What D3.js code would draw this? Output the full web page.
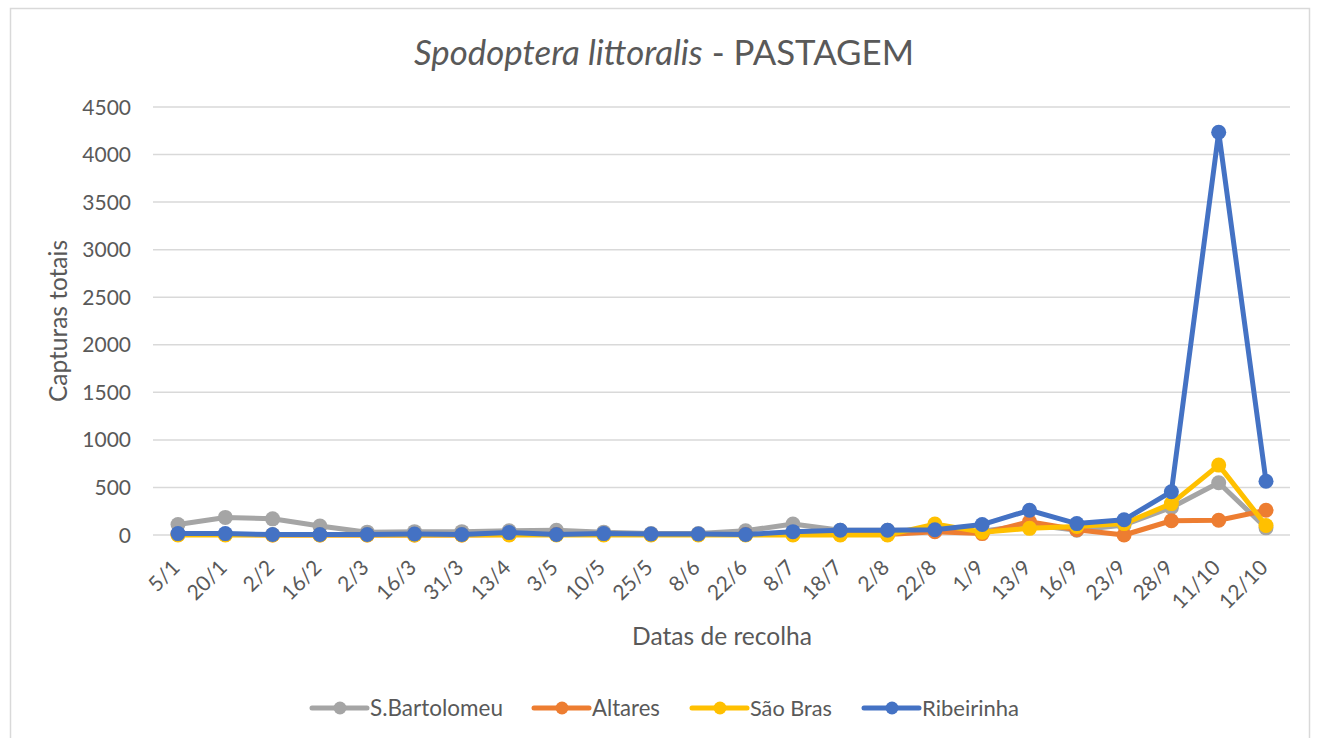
<!DOCTYPE html>
<html><head><meta charset="utf-8">
<script src="https://cdn.jsdelivr.net/npm/d3@7"></script>
<style>body{margin:0;background:#fff}svg{display:block}text{font-family:Lato,"Open Sans",sans-serif;fill:#595959}</style>
</head><body><svg id="c" width="1319" height="738"></svg>
<script>
const dates = ["5/1","20/1","2/2","16/2","2/3","16/3","31/3","13/4","3/5","10/5","25/5","8/6","22/6","8/7","18/7","2/8","22/8","1/9","13/9","16/9","23/9","28/9","11/10","12/10"];
const sBartolomeu = [110,185,170,95,30,35,35,45,50,30,15,15,45,115,50,50,50,40,110,50,105,290,550,75];
const altares     = [5,5,0,0,0,0,0,5,5,5,5,5,5,5,5,5,35,15,140,55,0,150,155,260];
const saoBras     = [0,0,0,0,0,0,0,0,0,0,0,0,0,0,0,0,115,30,70,90,120,330,735,100];
const ribeirinha  = [15,15,5,5,5,10,5,25,5,15,10,10,5,35,50,50,55,110,260,120,160,455,4235,565];
const yTicks = [0,500,1000,1500,2000,2500,3000,3500,4000,4500];
const seriesNames = ["S.Bartolomeu","Altares","São Bras","Ribeirinha"];
const seriesData = [sBartolomeu, altares, saoBras, ribeirinha];
const colors = ["#A5A5A5","#ED7D31","#FFC000","#4472C4"];

const svg = d3.select("#c");
svg.append("rect").attr("x",10.5).attr("y",8.5).attr("width",1299).attr("height",760)
  .attr("fill","#fff").attr("stroke","#D9D9D9").attr("stroke-width",1.5);

const x = d3.scalePoint().domain(dates).range([178,1266]);
const y = d3.scaleLinear().domain([0,4500]).range([535,107]);

function fit(t, w){ const l=t.node().getComputedTextLength(); const fs=parseFloat(t.attr("font-size")); t.attr("font-size", fs*w/l); }

// gridlines
svg.append("g").selectAll("line").data(yTicks).join("line")
  .attr("x1",153).attr("x2",1290).attr("y1",d=>y(d)).attr("y2",d=>y(d))
  .attr("stroke","#D9D9D9").attr("stroke-width",1.5);

// y tick labels
svg.append("g").selectAll("text").data(yTicks).join("text")
  .attr("x",131).attr("y",d=>y(d)+7.5).attr("text-anchor","end").attr("font-size",21).text(d=>d);

// x tick labels
svg.append("g").selectAll("text").data(dates).join("text")
  .attr("transform",d=>`translate(${x(d)+3},569) rotate(-45)`).attr("text-anchor","end")
  .attr("font-size",21).text(d=>d);

// title
const title = svg.append("text").attr("x",664).attr("y",65).attr("text-anchor","middle").attr("font-size",30);
title.append("tspan").attr("font-style","italic").text("Spodoptera littoralis");
title.append("tspan").text(" - PASTAGEM");
fit(title,500);

// axis titles
const yt = svg.append("text").attr("transform","translate(67,321) rotate(-90)").attr("text-anchor","middle").attr("font-size",22).text("Capturas totais");
fit(yt,162);
const xt = svg.append("text").attr("x",722).attr("y",645).attr("text-anchor","middle").attr("font-size",22).text("Datas de recolha");
fit(xt,180);

// lines
const line = d3.line().x((d,i)=>x(dates[i])).y(d=>y(d));
seriesData.forEach((s,k)=>{
  const g = svg.append("g");
  g.append("path").datum(s).attr("d",line).attr("fill","none").attr("stroke",colors[k])
    .attr("stroke-width",5).attr("stroke-linejoin","round").attr("stroke-linecap","round");
  g.selectAll("circle").data(s).join("circle").attr("cx",(d,i)=>x(dates[i])).attr("cy",d=>y(d))
    .attr("r",7.5).attr("fill",colors[k]);
});

// legend
const legX = [312,534,692,864];
const legTextW = [133,68,82,97];
seriesNames.forEach((n,k)=>{
  const g = svg.append("g");
  g.append("line").attr("x1",legX[k]).attr("x2",legX[k]+55).attr("y1",708).attr("y2",708)
    .attr("stroke",colors[k]).attr("stroke-width",5).attr("stroke-linecap","round");
  g.append("circle").attr("cx",legX[k]+28).attr("cy",708).attr("r",6.5).attr("fill",colors[k]);
  const t = g.append("text").attr("x",legX[k]+58).attr("y",715.5).attr("font-size",20).text(n);
  fit(t,legTextW[k]);
});
</script></body></html>
